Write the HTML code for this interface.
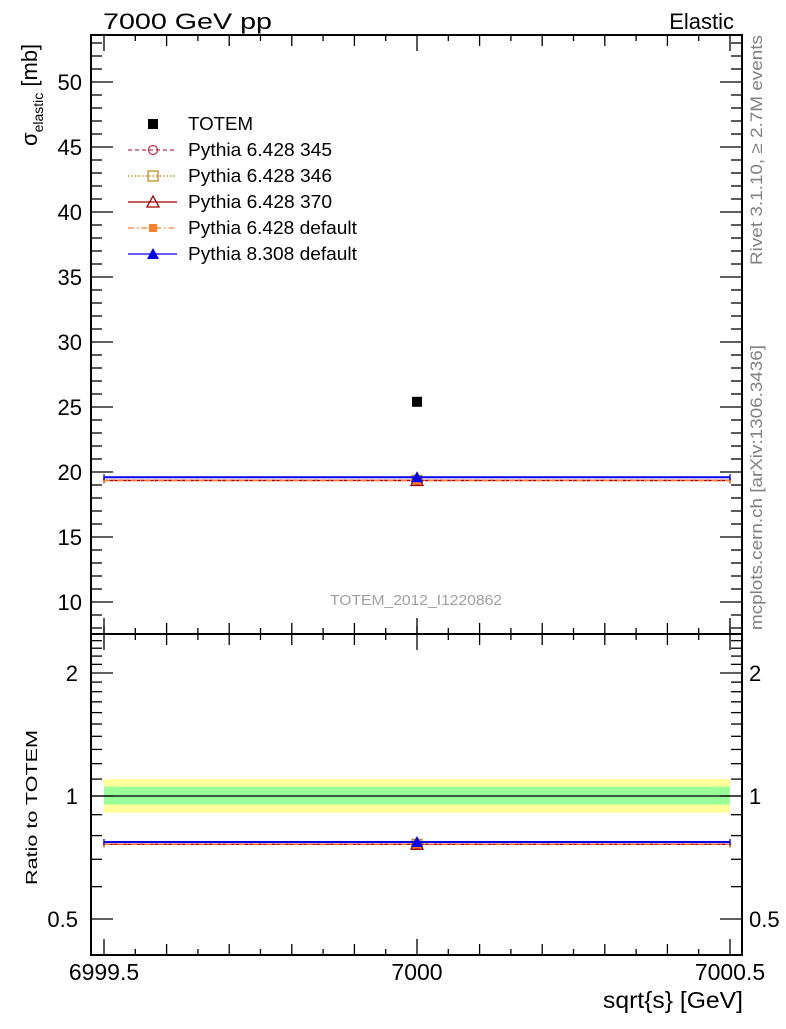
<!DOCTYPE html>
<html><head><meta charset="utf-8"><style>
html,body{margin:0;padding:0;background:#fff;}
svg text{font-family:"Liberation Sans",sans-serif;}
</style></head><body>
<svg width="786" height="1024" xmlns="http://www.w3.org/2000/svg">
<g id="g"></g>
</svg>
<script>
const xCats=[7000];
const totem=[25.4];
const totemErr=[0.0];
const seriesNames=["Pythia 6.428 345","Pythia 6.428 346","Pythia 6.428 370","Pythia 6.428 default","Pythia 8.308 default"];
const seriesVals=[[19.35],[19.35],[19.35],[19.35],[19.6]];
const mainTicks=[10,15,20,25,30,35,40,45,50];
const ratioTicks=[0.5,1,2];
const xTicks=[6999.5,7000,7000.5];
const bandInner=[0.953,1.054];
const bandOuter=[0.91,1.10];

const L=91,R=742,T=35,M=634,B=955;
const X=v=>104+(v-6999.5)*626;
const Y=v=>602-(v-10)*13;
const YR=v=>796-Math.log2(v)*123;
const NS="http://www.w3.org/2000/svg";
const g=document.getElementById('g');
function el(t,a,name,txt){const e=document.createElementNS(NS,t);for(const k in a)e.setAttribute(k,a[k]);


if(txt!==undefined)e.textContent=txt;g.appendChild(e);return e;}
const colors=["#c0304a","#b8860b","#a00000","#ff7f2a","#0000ee"];
const dashes=["4,3","1.5,2","","6,3,1.5,3",""];
const markers=["circle","square","triangle","fsquare","ftriangle"];
function marker(type,x,y,c,name,s){s=s||5;
 if(type=="circle")el('circle',{cx:x,cy:y,r:s-0.5,fill:'none',stroke:c,'stroke-width':1.2},name);
 else if(type=="square")el('rect',{x:x-s,y:y-s,width:2*s,height:2*s,fill:'none',stroke:c,'stroke-width':1.2},name);
 else if(type=="fsquare")el('rect',{x:x-4,y:y-4,width:8,height:8,fill:c},name);
 else if(type=="triangle")el('polygon',{points:`${x},${y-s-1} ${x-s-1},${y+s} ${x+s+1},${y+s}`,fill:'none',stroke:c,'stroke-width':1.3},name);
 else if(type=="ftriangle")el('polygon',{points:`${x},${y-s-1} ${x-s-1},${y+s} ${x+s+1},${y+s}`,fill:c},name);
 else if(type=="bsquare")el('rect',{x:x-5,y:y-5,width:10,height:10,fill:'#000'},name);
}
el('rect',{x:X(6999.5),y:YR(bandOuter[1]),width:X(7000.5)-X(6999.5),height:YR(bandOuter[0])-YR(bandOuter[1]),fill:'#ffff99'},'ratio-band-outer');
el('rect',{x:X(6999.5),y:YR(bandInner[1]),width:X(7000.5)-X(6999.5),height:YR(bandInner[0])-YR(bandInner[1]),fill:'#99ff99'},'ratio-band-inner');
el('line',{x1:L,x2:R,y1:YR(1),y2:YR(1),stroke:'#000','stroke-width':1.2},'ratio-unity-line');
for(let i=0;i<seriesNames.length;i++){
 const yv=Y(seriesVals[i][0]); const yr=YR(seriesVals[i][0]/totem[0]);
 [[yv,'main'],[yr,'ratio']].forEach(([yy,p])=>{
  el('line',{x1:X(6999.5),x2:X(7000.5),y1:yy,y2:yy,stroke:colors[i],'stroke-width':i==4?2:1.3,'stroke-dasharray':dashes[i]},`${p}-line-series-${i}`);
  el('line',{x1:X(6999.5),x2:X(6999.5),y1:yy-3,y2:yy+3,stroke:colors[i],'stroke-width':1.3},`${p}-cap-left-${i}`);
  el('line',{x1:X(7000.5),x2:X(7000.5),y1:yy-3,y2:yy+3,stroke:colors[i],'stroke-width':1.3},`${p}-cap-right-${i}`);
  marker(markers[i],X(xCats[0]),yy,colors[i],`${p}-point-series-${i}`);
 });
}
marker('bsquare',X(xCats[0]),Y(totem[0]),'#000','totem-point');
el('rect',{x:L,y:T,width:R-L,height:M-T,fill:'none',stroke:'#000','stroke-width':2},'main-frame');
el('rect',{x:L,y:M,width:R-L,height:B-M,fill:'none',stroke:'#000','stroke-width':2},'ratio-frame');
for(let v=8;v<=53;v++){const y=Y(v);const big=v%5==0;const len=big?22:11;
 el('line',{x1:L,x2:L+len,y1:y,y2:y,stroke:'#000','stroke-width':1.3},'y-tick');
 el('line',{x1:R,x2:R-len,y1:y,y2:y,stroke:'#000','stroke-width':1.3},'y-tick-right');}
mainTicks.forEach(v=>el('text',{x:82,y:Y(v)+8,'text-anchor':'end','font-size':22},'y-tick-label',v));
for(let k=5;k<=24;k++){const v=k/10;const y=YR(v);const big=(k==5||k==10||k==20);const len=big?22:11;
 el('line',{x1:L,x2:L+len,y1:y,y2:y,stroke:'#000','stroke-width':1.3},'ratio-tick');
 el('line',{x1:R,x2:R-len,y1:y,y2:y,stroke:'#000','stroke-width':1.3},'ratio-tick-right');}
ratioTicks.forEach(v=>{el('text',{x:78,y:YR(v)+8,'text-anchor':'end','font-size':22},'ratio-tick-label-left',v);
 el('text',{x:749,y:YR(v)+8,'font-size':22},'ratio-tick-label-right',v);});
for(let k=0;k<=20;k++){const v=6999.5+k*0.05;const x=X(v);const big=k%2==0;const len=big?(k%10==0?16:11):6;
 [[T,1],[M,-1],[M,1],[B,-1]].forEach(([y0,d])=>el('line',{x1:x,x2:x,y1:y0-(k%10==0&&d>0&&y0==M?8:0),y2:y0+d*len,stroke:'#000','stroke-width':1.3},'x-tick'));}
xTicks.forEach(v=>el('text',{x:X(v),y:980,'text-anchor':'middle','font-size':23},'x-tick-label',v));
el('text',{x:103,y:29,'font-size':22,textLength:169,lengthAdjust:'spacingAndGlyphs'},'plot-title-left','7000 GeV pp');
el('text',{x:734,y:29,'font-size':22,'text-anchor':'end'},'plot-title-right','Elastic');
el('text',{x:743,y:1008,'font-size':23,'text-anchor':'end',textLength:140,lengthAdjust:'spacingAndGlyphs'},'x-axis-title','sqrt{s} [GeV]');
const yt=el('text',{transform:'translate(37,146) rotate(-90)','font-size':22},'y-axis-title');
yt.innerHTML='σ<tspan font-size="14" dy="6">elastic</tspan><tspan dy="-6"> [mb]</tspan>';
el('text',{transform:'translate(37,885) rotate(-90)','font-size':16,textLength:155,lengthAdjust:'spacingAndGlyphs'},'ratio-axis-title','Ratio to TOTEM');
el('text',{transform:'translate(762,265) rotate(-90)','font-size':17,fill:'#808080',textLength:230,lengthAdjust:'spacingAndGlyphs'},'rivet-label','Rivet 3.1.10, ≥ 2.7M events');
el('text',{transform:'translate(762,630) rotate(-90)','font-size':17,fill:'#808080',textLength:285,lengthAdjust:'spacingAndGlyphs'},'mcplots-label','mcplots.cern.ch [arXiv:1306.3436]');
el('text',{x:416,y:605,'font-size':15,fill:'#a0a0a0','text-anchor':'middle',textLength:172,lengthAdjust:'spacingAndGlyphs'},'analysis-label','TOTEM_2012_I1220862');
const legLens=[65,144,144,144,169,169];
el('text',{x:188,y:130,'font-size':18,textLength:legLens[0],lengthAdjust:'spacingAndGlyphs'},'legend-label-totem','TOTEM');
marker('bsquare',153,124,'#000','legend-marker-totem');
for(let i=0;i<seriesNames.length;i++){const y=150+i*26;
 el('line',{x1:128,x2:177,y1:y,y2:y,stroke:colors[i],'stroke-width':1.3,'stroke-dasharray':dashes[i]},'legend-line-'+i);
 marker(markers[i],153,y,colors[i],'legend-marker-'+i);
 el('text',{x:188,y:y+6,'font-size':18,textLength:legLens[i+1],lengthAdjust:'spacingAndGlyphs'},'legend-label-'+i,seriesNames[i]);}
</script>
</body></html>
